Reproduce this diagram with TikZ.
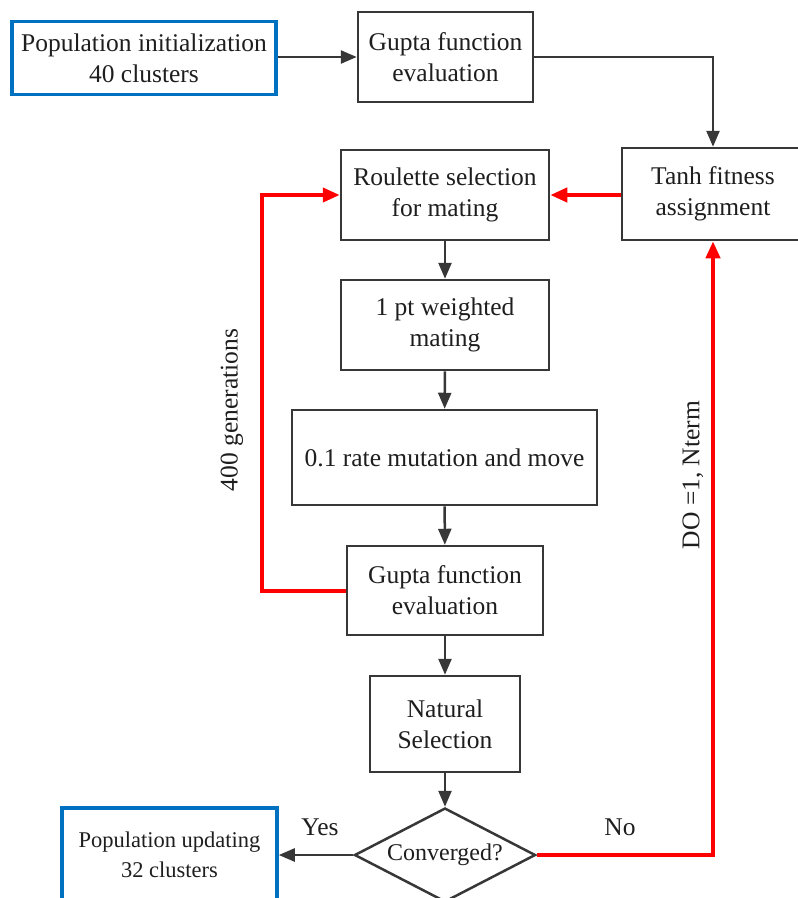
\documentclass[tikz,border=0pt]{standalone}
\usepackage{fontspec}
\setmainfont{Liberation Serif}
\usetikzlibrary{arrows.meta,shapes.geometric}
\definecolor{boxblue}{RGB}{0,112,192}
\definecolor{lineblack}{RGB}{55,55,55}
\definecolor{textblack}{RGB}{30,30,30}

\begin{document}
\begin{tikzpicture}[x=1pt, y=-1pt,
    box/.style={draw=lineblack, line width=2.5pt, align=center, inner sep=0pt, text=textblack, font=\fontsize{25.5}{31}\selectfont},
    bluebox/.style={box, draw=boxblue, line width=3.5pt},
    flow/.style={draw=lineblack, line width=2.5pt, -{Triangle[length=16pt,width=13pt]}},
    loopback/.style={draw=red, line width=4pt, -{Triangle[length=17pt,width=14pt]}},
    lbl/.style={text=textblack, font=\fontsize{25.5}{30}\selectfont}]
    \useasboundingbox (0,0) rectangle (798,898);
    \node[bluebox, minimum width=264pt, minimum height=73pt] (init) at (144, 58) {Population initialization\\40 clusters};
    \node[box, minimum width=175pt, minimum height=90pt] (gupta1) at (445.5, 57) {Gupta function\\evaluation};
    \node[box, minimum width=182pt, minimum height=92pt] (tanh) at (713, 194) {Tanh fitness\\assignment};
    \node[box, minimum width=208pt, minimum height=90pt] (roulette) at (445, 195) {Roulette selection\\for mating};
    \node[box, minimum width=208pt, minimum height=90pt] (mating) at (445, 325) {1 pt weighted\\mating};
    \node[box, minimum width=305pt, minimum height=95pt] (mutation) at (444.5, 457.5) {0.1 rate mutation and move};
    \node[box, minimum width=196pt, minimum height=89pt] (gupta2) at (445, 590.5) {Gupta function\\evaluation};
    \node[box, minimum width=150pt, minimum height=96pt] (natural) at (445, 724) {Natural\\Selection};
    \node[box, diamond, aspect=1.93, minimum width=181pt, minimum height=94pt, font=\fontsize{24}{30}\selectfont] (conv) at (445, 855) {Converged?};
    \node[bluebox, minimum width=215pt, minimum height=94pt, font=\fontsize{22.5}{30}\selectfont] (update) at (169.5, 855) {Population updating\\32 clusters};
    % main flow
    \draw[flow] (init.east |- gupta1.west) -- (gupta1.west);
    \draw[flow] (gupta1.east) -| (tanh.north);
    \draw[flow] (roulette) -- (mating);
    \draw[flow] (mating) -- (mutation);
    \draw[flow] (mutation) -- (gupta2);
    \draw[flow] (gupta2) -- (natural);
    \draw[flow] (natural) -- (conv);
    \draw[flow] (conv.west) -- (update.east);
    % red loops
    \draw[loopback] (tanh.west |- roulette.east) -- (roulette.east);
    \coordinate (genleft) at (262, 590.5);
    \draw[loopback] (gupta2.west) -- (genleft) |- (roulette.west);
    \draw[loopback] (conv.east) -| (tanh.south);
    % labels
    \node[lbl, rotate=90] (gens) at (232, 410) {400 generations};
    \node[lbl, rotate=90] (doterm) at (693, 475) {DO =1, Nterm};
    \node[lbl] (yes) at (320, 827) {Yes};
    \node[lbl] (no) at (620, 827) {No};
\end{tikzpicture}
\end{document}
